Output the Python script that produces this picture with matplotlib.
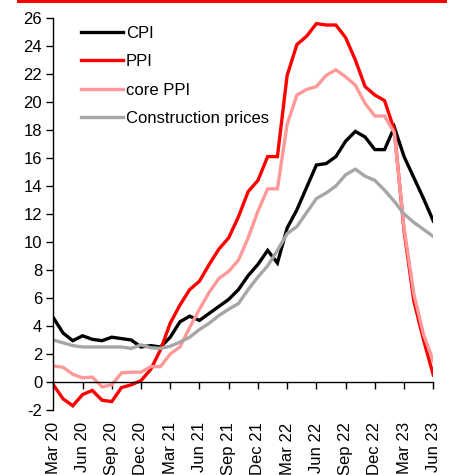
import matplotlib
matplotlib.use("Agg")
import matplotlib.pyplot as plt
from matplotlib.patches import Rectangle
import numpy as np

plt.rcParams['font.family'] = ['Liberation Sans', 'DejaVu Sans']
plt.rcParams['axes.unicode_minus'] = False

months = ["Mar 20", "Apr 20", "May 20", "Jun 20", "Jul 20", "Aug 20", "Sep 20", "Oct 20",
          "Nov 20", "Dec 20", "Jan 21", "Feb 21", "Mar 21", "Apr 21", "May 21", "Jun 21",
          "Jul 21", "Aug 21", "Sep 21", "Oct 21", "Nov 21", "Dec 21", "Jan 22", "Feb 22",
          "Mar 22", "Apr 22", "May 22", "Jun 22", "Jul 22", "Aug 22", "Sep 22", "Oct 22",
          "Nov 22", "Dec 22", "Jan 23", "Feb 23", "Mar 23", "Apr 23", "May 23", "Jun 23"]

cpi = [4.6, 3.5, 2.95, 3.3, 3.05, 2.95, 3.2, 3.1, 3.0, 2.5, 2.6, 2.5,
       3.2, 4.3, 4.7, 4.4, 4.9, 5.4, 5.9, 6.6, 7.6, 8.4, 9.4, 8.5,
       11.0, 12.3, 13.9, 15.5, 15.6, 16.1, 17.2, 17.9, 17.5, 16.6, 16.6, 18.2,
       16.1, 14.6, 13.1, 11.5]

ppi = [-0.2, -1.2, -1.7, -0.9, -0.6, -1.3, -1.4, -0.4, -0.2, 0.1, 0.9, 2.3,
       4.2, 5.5, 6.6, 7.2, 8.4, 9.5, 10.3, 11.8, 13.6, 14.4, 16.1, 16.1,
       21.9, 24.1, 24.7, 25.6, 25.5, 25.5, 24.6, 23.0, 21.1, 20.5, 20.1, 18.0,
       10.8, 5.8, 3.0, 0.5]

core_ppi = [1.15, 1.05, 0.55, 0.3, 0.35, -0.35, -0.2, 0.65, 0.7, 0.7, 1.1, 1.1,
            2.0, 2.5, 3.9, 5.2, 6.4, 7.4, 7.9, 8.7, 10.3, 12.2, 13.8, 13.8,
            18.4, 20.5, 20.9, 21.1, 21.9, 22.3, 21.8, 21.2, 19.9, 19.0, 19.0, 17.8,
            11.0, 6.3, 3.4, 1.5]

construction = [3.0, 2.8, 2.6, 2.5, 2.5, 2.5, 2.5, 2.5, 2.4, 2.65, 2.45, 2.4,
                2.55, 2.85, 3.2, 3.75, 4.2, 4.75, 5.2, 5.6, 6.6, 7.5, 8.3, 9.4,
                10.6, 11.1, 12.1, 13.1, 13.5, 14.0, 14.8, 15.2, 14.7, 14.4, 13.7, 12.9,
                12.0, 11.4, 10.9, 10.4]

series_names = ["CPI", "PPI", "core PPI", "Construction prices"]
series_colors = ["#000000", "#FF0000", "#FF9999", "#A6A6A6"]

W, H = 454, 475
fig = plt.figure(figsize=(W / 100, H / 100), dpi=100)
ax = fig.add_axes([53.3 / W, 1 - 410 / H, 380 / W, 392 / H])

x = np.arange(len(months))
for name, vals, col in zip(series_names, [cpi, ppi, core_ppi, construction], series_colors):
    ax.plot(x, vals, color=col, lw=2.4, label=name, solid_joinstyle='miter')

ax.set_xlim(0, len(months) - 1)
ax.set_ylim(-2, 26)
ax.set_yticks(np.arange(-2, 27, 2))
ax.set_xticks(x[::3])
ax.set_xticklabels(months[::3])

for s in ['top', 'right']:
    ax.spines[s].set_visible(False)
ax.spines['bottom'].set_position(('data', 0))
ax.spines['left'].set_linewidth(1.0)
ax.spines['bottom'].set_linewidth(1.0)
ax.tick_params(axis='both', direction='out', length=5, width=1.0, labelsize=12, colors='black')
ax.tick_params(axis='x', pad=24, labelrotation=90)
ax.tick_params(axis='y', pad=3)

leg = ax.legend(loc='upper left', bbox_to_anchor=(81 / W, 1 - 26 / H), bbox_transform=fig.transFigure,
                frameon=False, fontsize=12, handlelength=2.5, handletextpad=0.2,
                labelspacing=0.8, borderpad=0, borderaxespad=0)

fig.patches.append(Rectangle((17 / W, 1 - 3 / H), 430 / W, 3 / H, transform=fig.transFigure,
                             facecolor='#FF0000', edgecolor='none'))

fig.savefig("out.png", dpi=100)
